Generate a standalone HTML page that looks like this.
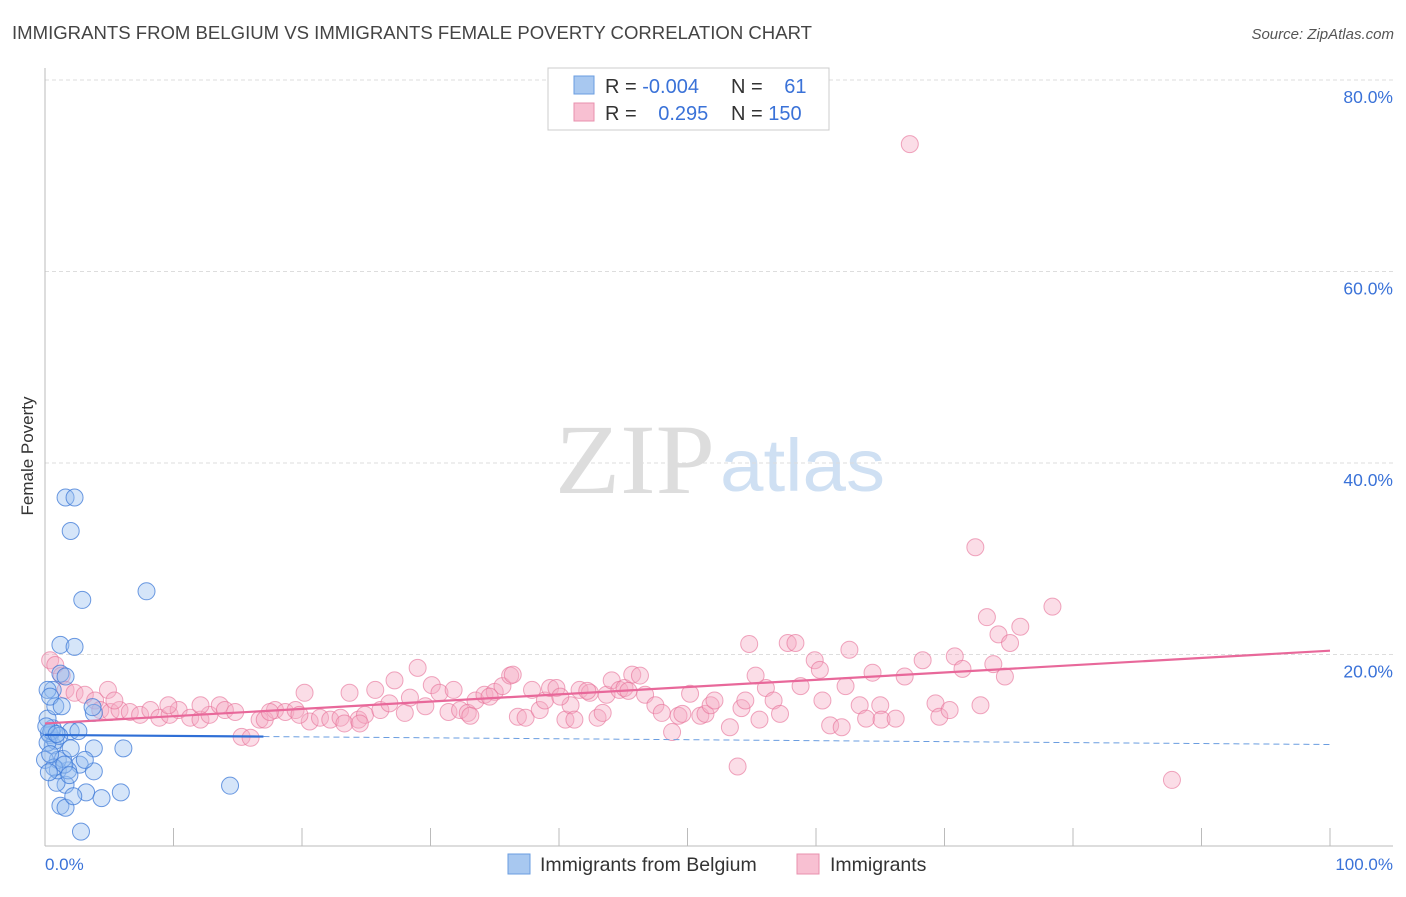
<!DOCTYPE html>
<html><head><meta charset="utf-8"><style>
body{margin:0;background:#fff;font-family:"Liberation Sans",sans-serif;}
svg text{font-family:"Liberation Sans",sans-serif;}
</style></head><body>
<svg id="chart" width="1406" height="892" xmlns="http://www.w3.org/2000/svg">
<text x="12" y="39" font-size="18" fill="#444" textLength="800" lengthAdjust="spacingAndGlyphs">IMMIGRANTS FROM BELGIUM VS IMMIGRANTS FEMALE POVERTY CORRELATION CHART</text>
<text x="1394" y="39" font-size="15" fill="#555" font-style="italic" text-anchor="end">Source: ZipAtlas.com</text>
<text x="555" y="493" font-size="100" fill="#ddd" textLength="160" lengthAdjust="spacingAndGlyphs" style="font-family:'Liberation Serif',serif">ZIP</text>
<text x="720" y="491" font-size="74" fill="#cfe0f3" textLength="165" lengthAdjust="spacingAndGlyphs">atlas</text>
<g id="grid"></g><g id="axes"></g><g id="pinkPts"></g><g id="bluePts"></g><g id="lines"></g>
<text x="33" y="456" font-size="17" fill="#333" text-anchor="middle" transform="rotate(-90 33 456)">Female Poverty</text>
<text x="45" y="870" font-size="17" fill="#3a72d8">0.0%</text>
<text x="1393" y="870" font-size="17" fill="#3a72d8" text-anchor="end">100.0%</text>
<g>
<rect x="548" y="68" width="281" height="62" fill="#fff" stroke="#ccc"/>
<rect x="574" y="76" width="20" height="18" fill="#a8c8f0" stroke="#6a9de0"/>
<rect x="574" y="103" width="20" height="18" fill="#f8c0d2" stroke="#e890ae"/>
<text x="605" y="93" font-size="20" fill="#333">R = <tspan fill="#3a72d8">-0.004</tspan></text>
<text x="731" y="93" font-size="20" fill="#333">N = <tspan fill="#3a72d8" dx="16">61</tspan></text>
<text x="605" y="120" font-size="20" fill="#333">R = <tspan fill="#3a72d8" dx="16">0.295</tspan></text>
<text x="731" y="120" font-size="20" fill="#333">N = <tspan fill="#3a72d8">150</tspan></text>
</g>
<g>
<rect x="508" y="854" width="22" height="20" fill="#a8c8f0" stroke="#6a9de0"/>
<text x="540" y="871" font-size="19.5" fill="#333">Immigrants from Belgium</text>
</g>
<g>
<rect x="797" y="854" width="22" height="20" fill="#f8c0d2" stroke="#e890ae"/>
<text x="830" y="871" font-size="19.5" fill="#333">Immigrants</text>
</g>
</svg>
<script>
const yTicks=[20,40,60,80];
const yTickLabels=["20.0%","40.0%","60.0%","80.0%"];
const xTicks=[0,10,20,30,40,50,60,70,80,90,100];
const blueX=[1.6,2.3,2.0,2.9,7.9,1.2,2.3,1.2,1.6,0.6,0.2,3.8,6.1,3.8,2.7,3.8,1.6,3.2,4.4,5.9,14.4,1.2,1.6,2.2,2.8,0.9,1.0,1.8,0.6,0.4,0.6,0.8,1.0,0.2,0.8,2.0,1.4,3.1,2.0,0.4,1.3,0,0.3,0.5,0.2,0.7,1.1,1.5,0.3,3.7,2.6,0.1,0.9,1.9,0.4];
const blueY=[36.4,36.4,32.9,25.7,26.6,21.0,20.8,18.0,17.7,16.3,16.3,13.9,10.2,10.2,8.5,7.8,6.4,5.6,5.0,5.6,6.3,4.2,4.0,5.2,1.5,6.6,7.9,7.9,10.5,11.6,12.3,11.0,9.0,13.3,14.6,12.0,9.1,9.0,10.2,15.6,14.6,9.0,11.8,12.0,10.8,8.2,11.5,8.5,7.7,14.5,12.0,12.5,11.7,7.4,9.6];
const pinkX=[0.4,0.8,1.3,1.6,2.3,3.1,3.9,4.3,5.1,5.8,6.6,7.4,8.2,8.9,9.7,10.4,11.3,12.1,12.8,13.6,14.0,14.8,15.3,16.0,16.7,17.1,17.9,18.7,19.5,20.2,20.6,21.4,22.2,23.0,23.7,24.4,24.9,25.7,26.1,26.8,27.2,28.0,28.4,29.0,29.6,30.1,30.7,31.4,31.8,32.3,32.9,33.5,34.2,35.0,35.6,36.2,36.4,36.8,37.4,37.9,38.5,38.9,39.3,39.8,40.5,40.9,41.2,41.6,42.4,43.0,43.4,43.7,44.1,44.7,45.1,45.7,46.3,46.7,47.5,48.0,48.8,49.3,49.6,50.2,51.0,51.4,51.8,52.1,53.3,53.9,54.2,54.5,54.8,55.3,55.6,56.1,56.7,57.2,57.8,58.4,58.8,59.9,60.3,60.5,61.1,62.0,62.3,62.6,63.4,63.9,64.4,65.0,65.1,66.2,66.9,67.3,68.3,69.3,69.6,70.4,70.8,71.4,72.4,72.8,73.3,73.8,74.2,74.7,75.1,75.9,78.4,87.7,4.9,5.4,9.6,12.1,17.5,19.8,23.3,24.5,33.1,34.6,40.1,42.2,45.4];
const pinkY=[19.4,18.9,17.8,16.3,16.0,15.8,15.2,14.2,14.0,14.2,14.0,13.7,14.2,13.4,13.7,14.2,13.4,13.2,13.7,14.7,14.2,14.0,11.4,11.3,13.2,13.2,14.2,14.0,14.2,16.0,13.0,13.4,13.2,13.4,16.0,13.2,13.7,16.3,14.2,14.9,17.3,13.9,15.5,18.6,14.6,16.8,16.0,14.0,16.3,14.2,13.9,15.2,15.8,16.1,16.7,17.8,17.9,13.5,13.4,16.3,14.2,15.2,16.5,16.5,13.2,14.7,13.2,16.3,16.0,13.4,13.9,15.8,17.3,16.3,16.5,17.9,17.8,15.8,14.7,13.9,11.9,13.6,13.8,15.9,13.6,13.8,14.7,15.2,12.4,8.3,14.4,15.2,21.1,17.8,13.2,16.5,15.2,13.8,21.2,21.2,16.7,19.4,18.4,15.2,12.6,12.4,16.7,20.5,14.7,13.3,18.1,14.7,13.2,13.3,17.7,73.3,19.4,14.9,13.5,14.2,19.8,18.5,31.2,14.7,23.9,19.0,22.1,17.7,21.2,22.9,25.0,6.9,16.3,15.2,14.7,14.7,14.0,13.7,12.8,12.8,13.6,15.6,15.6,16.2,16.2];
const pinkTrend=[12.8,20.4];
const blueTrend=[11.6,10.6];
const blueSolidEnd=17;
const NS="http://www.w3.org/2000/svg";
const X0=45,X1=1330,Y0=846,Y80=80;
function sx(v){return X0+(X1-X0)*v/100;}
function sy(v){return Y0-(Y0-Y80)*v/80;}
function mk(tag,attrs,parent){const e=document.createElementNS(NS,tag);for(const k in attrs)e.setAttribute(k,attrs[k]);parent.appendChild(e);return e;}
const grid=document.getElementById('grid');
yTicks.forEach((t,i)=>{
 const l=mk('line',{x1:X0,x2:1393,y1:sy(t),y2:sy(t),stroke:'#ddd','stroke-dasharray':'4,3'},grid);
 
 
 const tx=mk('text',{x:1393,y:sy(t)+23,'font-size':17.5,fill:'#3a72d8','text-anchor':'end'},grid);
 tx.textContent=yTickLabels[i];
 
 
});
const axes=document.getElementById('axes');
const ya=mk('line',{x1:X0,x2:X0,y1:68,y2:Y0,stroke:'#bbb'},axes);


const xa=mk('line',{x1:X0,x2:1393,y1:Y0,y2:Y0,stroke:'#bbb'},axes);


xTicks.forEach(t=>{
 const l=mk('line',{x1:sx(t),x2:sx(t),y1:828,y2:Y0,stroke:'#bbb'},axes);
 
 
});
const pg=document.getElementById('pinkPts');
pinkX.forEach((x,i)=>{
 const c=mk('circle',{cx:sx(x),cy:sy(pinkY[i]),r:8.5,fill:'rgba(245,170,195,0.4)',stroke:'rgba(230,110,150,0.6)','stroke-width':1},pg);
 
 
});
const bg=document.getElementById('bluePts');
blueX.forEach((x,i)=>{
 const c=mk('circle',{cx:sx(x),cy:sy(blueY[i]),r:8.5,fill:'rgba(150,190,240,0.4)',stroke:'rgba(60,120,215,0.75)','stroke-width':1},bg);
 
 
});
const lg=document.getElementById('lines');
const pt=mk('line',{x1:sx(0),x2:sx(100),y1:sy(pinkTrend[0]),y2:sy(pinkTrend[1]),stroke:'#e8689a','stroke-width':2.2},lg);


const slope=(blueTrend[1]-blueTrend[0])/100;
const bs=mk('line',{x1:sx(0),x2:sx(blueSolidEnd),y1:sy(blueTrend[0]),y2:sy(blueTrend[0]+slope*blueSolidEnd),stroke:'#2f6fd6','stroke-width':2.2},lg);


const bd=mk('line',{x1:sx(blueSolidEnd),x2:sx(100),y1:sy(blueTrend[0]+slope*blueSolidEnd),y2:sy(blueTrend[1]),stroke:'#6a9de0','stroke-width':1,'stroke-dasharray':'6,4'},lg);


</script>
</body></html>
